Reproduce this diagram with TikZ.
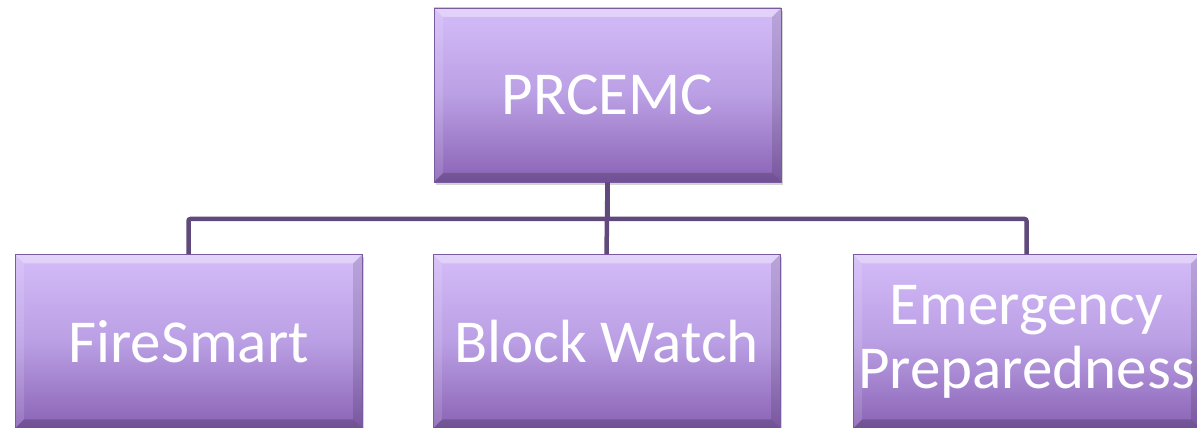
\documentclass[tikz,border=0pt]{standalone}
\usepackage{fontspec}
\setmainfont{Carlito}
\usetikzlibrary{shadows}
\definecolor{boxtop}{HTML}{D4BCF8}
\definecolor{boxmid}{HTML}{BA9FE4}
\definecolor{boxbot}{HTML}{8A63B5}
\definecolor{boxedge}{HTML}{7A5AA0}
\definecolor{wire}{HTML}{604A7B}
\def\bevel{9}
\tikzset{
  orgbox/.style={rectangle, inner sep=0pt, minimum width=347pt, minimum height=174pt,
    top color=boxtop, bottom color=boxbot, middle color=boxmid, draw=boxedge, line width=0.8pt,
    drop shadow={opacity=0.35, shadow xshift=2pt, shadow yshift=-3pt},
    path picture={
      % light top edge, dark lower and right edges
      \fill[white, opacity=0.35] (path picture bounding box.north west) -- (path picture bounding box.north east)
        -- ([shift={(-\bevel,-\bevel)}]path picture bounding box.north east) -- ([shift={(\bevel,-\bevel)}]path picture bounding box.north west) -- cycle;
      \fill[white, opacity=0.12] (path picture bounding box.north west) -- ([shift={(\bevel,-\bevel)}]path picture bounding box.north west)
        -- ([shift={(\bevel,\bevel)}]path picture bounding box.south west) -- (path picture bounding box.south west) -- cycle;
      \fill[black, opacity=0.12] (path picture bounding box.north east) -- ([shift={(-\bevel,-\bevel)}]path picture bounding box.north east)
        -- ([shift={(-\bevel,\bevel)}]path picture bounding box.south east) -- (path picture bounding box.south east) -- cycle;
      \fill[black, opacity=0.18] (path picture bounding box.south west) -- (path picture bounding box.south east)
        -- ([shift={(-\bevel,\bevel)}]path picture bounding box.south east) -- ([shift={(\bevel,\bevel)}]path picture bounding box.south west) -- cycle;
    },
    text=white, align=center, font=\fontsize{61}{64}\selectfont},
  wireline/.style={line width=4.5pt, color=wire, rounded corners=2pt}
}

\begin{document}
\begin{tikzpicture}[x=1pt, y=1pt]
			%%%%% START %%%%%
			\useasboundingbox (0, 0) rectangle (1197, 428);
			
			\node[orgbox] (prcemc) at (607.5, 333) {PRCEMC};
			
			\node[orgbox] (firesmart) at (188.5, 86.5) {FireSmart};
			\node[orgbox] (blockwatch) at (606.5, 86.5) {Block Watch};
			\node[orgbox] (emergency) at (1026.5, 86.5) {Emergency\\Preparedness};
			
			\coordinate (bus) at (0, 209);
			
			\draw[wireline] (prcemc.south) -- (prcemc.south |- bus) -| (firesmart.north);
			\draw[wireline] (prcemc.south |- bus) -| (emergency.north);
			\draw[wireline] (prcemc.south) -- (blockwatch.north);
			
			%%%%% END %%%%%
		\end{tikzpicture}
\end{document}
